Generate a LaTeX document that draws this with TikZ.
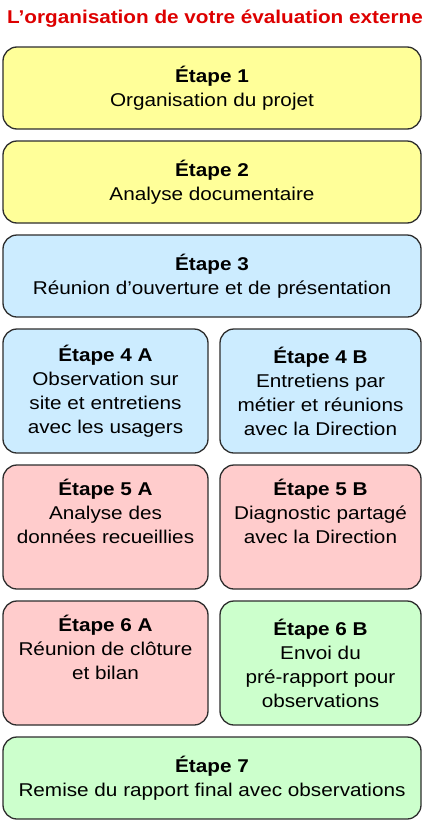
\documentclass[tikz,border=0pt]{standalone}
\usepackage{fontspec}
\setmainfont{Liberation Sans}[FakeStretch=1.12]
\usetikzlibrary{positioning}

\definecolor{rouge}{RGB}{221,0,0}
\definecolor{bordure}{RGB}{45,45,45}
\definecolor{jaune}{RGB}{255,255,153}
\definecolor{bleu}{RGB}{204,236,255}
\definecolor{rose}{RGB}{255,204,204}
\definecolor{vert}{RGB}{204,255,204}

\begin{document}
\begin{tikzpicture}[node distance=12pt,font=\fontsize{18.5}{24}\selectfont,
    etape/.style={draw=bordure,line width=1.3pt,rounded corners=14pt,align=center,inner sep=0pt,outer sep=0pt},
    large/.style={etape,minimum width=418pt,minimum height=82pt},
    demi/.style={etape,minimum height=124pt},
    titre/.style={text=rouge,font=\fontsize{18.5}{22}\selectfont\bfseries}]

    \useasboundingbox (0,0) rectangle (439pt,-822pt);

    \node[titre] (titre) at (215pt,-19pt) {L’organisation de votre évaluation externe};

    % etapes communes
    \node[large,fill=jaune,anchor=north west] (e1) at (3pt,-47pt) {\textbf{Étape 1}\\Organisation du projet};
    \node[large,fill=jaune] (e2) [below=of e1] {\textbf{Étape 2}\\Analyse documentaire};
    \node[large,fill=bleu] (e3) [below=of e2] {\textbf{Étape 3}\\Réunion d’ouverture et de présentation};

    % colonne A et colonne B
    \node[demi,fill=bleu,minimum width=205pt] (e4a) [below right=12pt and 0pt of e3.south west] {\textbf{Étape 4 A}\\Observation sur\\site et entretiens\\avec les usagers};
    \node[demi,fill=bleu,minimum width=201pt] (e4b) [below left=12pt and 0pt of e3.south east] {\textbf{Étape 4 B}\\Entretiens par\\métier et réunions\\avec la Direction};
    \node[demi,fill=rose,minimum width=205pt] (e5a) [below=of e4a] {\textbf{Étape 5 A}\\Analyse des\\données recueillies\\\strut};
    \node[demi,fill=rose,minimum width=201pt] (e5b) [below=of e4b] {\textbf{Étape 5 B}\\Diagnostic partagé\\avec la Direction\\\strut};
    \node[demi,fill=rose,minimum width=205pt] (e6a) [below=of e5a] {\textbf{Étape 6 A}\\Réunion de clôture\\et bilan\\\strut};
    \node[demi,fill=vert,minimum width=201pt] (e6b) [below=of e5b] {\textbf{Étape 6 B}\\Envoi du\\pré-rapport pour\\observations};

    \node[large,fill=vert] (e7) [below right=12pt and 0pt of e6a.south west] {\textbf{Étape 7}\\Remise du rapport final avec observations};
\end{tikzpicture}
\end{document}
